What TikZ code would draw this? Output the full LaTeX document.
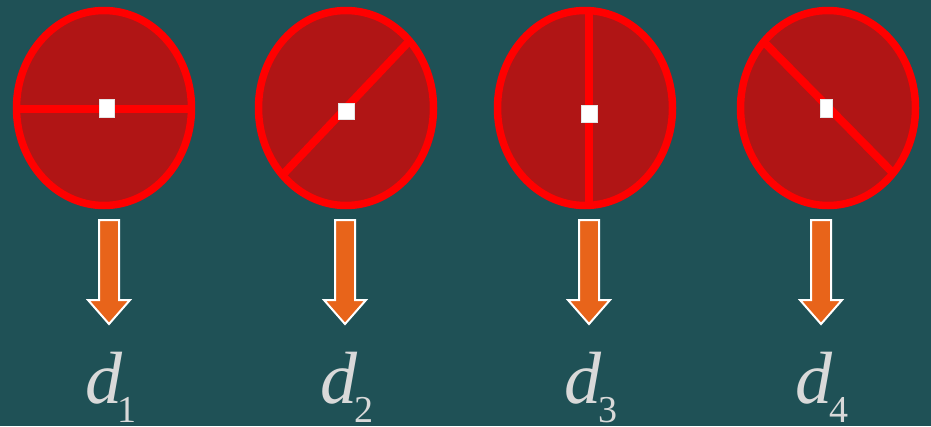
\documentclass[tikz,border=0pt]{standalone}
\usepackage{fontspec}
\setmainfont{Liberation Serif}[ItalicFont={Liberation Serif Italic}]
\definecolor{bgc}{HTML}{1F5156}
\definecolor{discfill}{HTML}{B01515}
\definecolor{discline}{HTML}{FF0000}
\definecolor{arrowc}{HTML}{E8641A}
\definecolor{lblc}{HTML}{D9D9D9}
\tikzset{
  disc/.style={fill=discfill},
  discrim/.style={draw=discline, line width=7.5pt},
  diam/.style={draw=discline, line width=8pt},
  pin/.style={fill=white, draw=white!80!gray, line width=0.6pt},
  blockarrow/.style={fill=arrowc, draw=white, line width=2pt, line join=miter},
  lbl/.style={text=lblc, inner sep=0pt, anchor=base west, font=\fontsize{74}{74}\selectfont}
}
\newcommand{\subnum}[1]{\raisebox{-19pt}{\fontsize{38}{38}\selectfont\upshape #1}}
\newcommand{\mydisc}[6]{% center x, center y, line p1, line p2, pin center, pin size
  \fill[disc] (#1,#2) ellipse [x radius=87.5, y radius=97.5];
  \begin{scope}
    \clip (#1,#2) ellipse [x radius=87.5, y radius=97.5];
    \draw[diam] #3 -- #4;
  \end{scope}
  \draw[discrim] (#1,#2) ellipse [x radius=87.5, y radius=97.5];
  \node[pin, minimum width=0pt, minimum height=0pt, inner sep=0pt, shape=rectangle] at #5 {#6};
}
\newcommand{\myarrow}[1]{% center x
  \draw[blockarrow] (#1-10,220) -- (#1+10,220) -- (#1+10,300) -- (#1+21,300)
    -- (#1,324) -- (#1-21,300) -- (#1-10,300) -- cycle;
}
\begin{document}
\begin{tikzpicture}[x=1pt,y=-1pt]
\useasboundingbox[fill=bgc] (0,0) rectangle (931,426);
% disc 1: horizontal
\mydisc{104}{108}{(0,108.5)}{(210,108.5)}{(106.5,108)}{\tikz\path (0,0) rectangle (15pt,18pt);}
% disc 2: rising diagonal
\mydisc{346}{108}{(221,240)}{(469,-22)}{(346,111)}{\tikz\path (0,0) rectangle (16pt,16pt);}
% disc 3: vertical
\mydisc{585}{108}{(588.5,0)}{(588.5,220)}{(589,113.5)}{\tikz\path (0,0) rectangle (16pt,17pt);}
% disc 4: falling diagonal
\mydisc{828}{108}{(700,-23)}{(955,236)}{(826,108)}{\tikz\path (0,0) rectangle (12pt,18pt);}
% arrows
\myarrow{109}
\myarrow{345}
\myarrow{589}
\myarrow{821}
% labels
\node[lbl] (l1) at (85,403) {\textit{d}\kern-5pt\subnum{1}};
\node[lbl] (l2) at (320,403) {\textit{d}\kern-3pt\subnum{2}};
\node[lbl] (l3) at (564,403) {\textit{d}\kern-3pt\subnum{3}};
\node[lbl] (l4) at (795,403) {\textit{d}\kern-3pt\subnum{4}};
\end{tikzpicture}
\end{document}
